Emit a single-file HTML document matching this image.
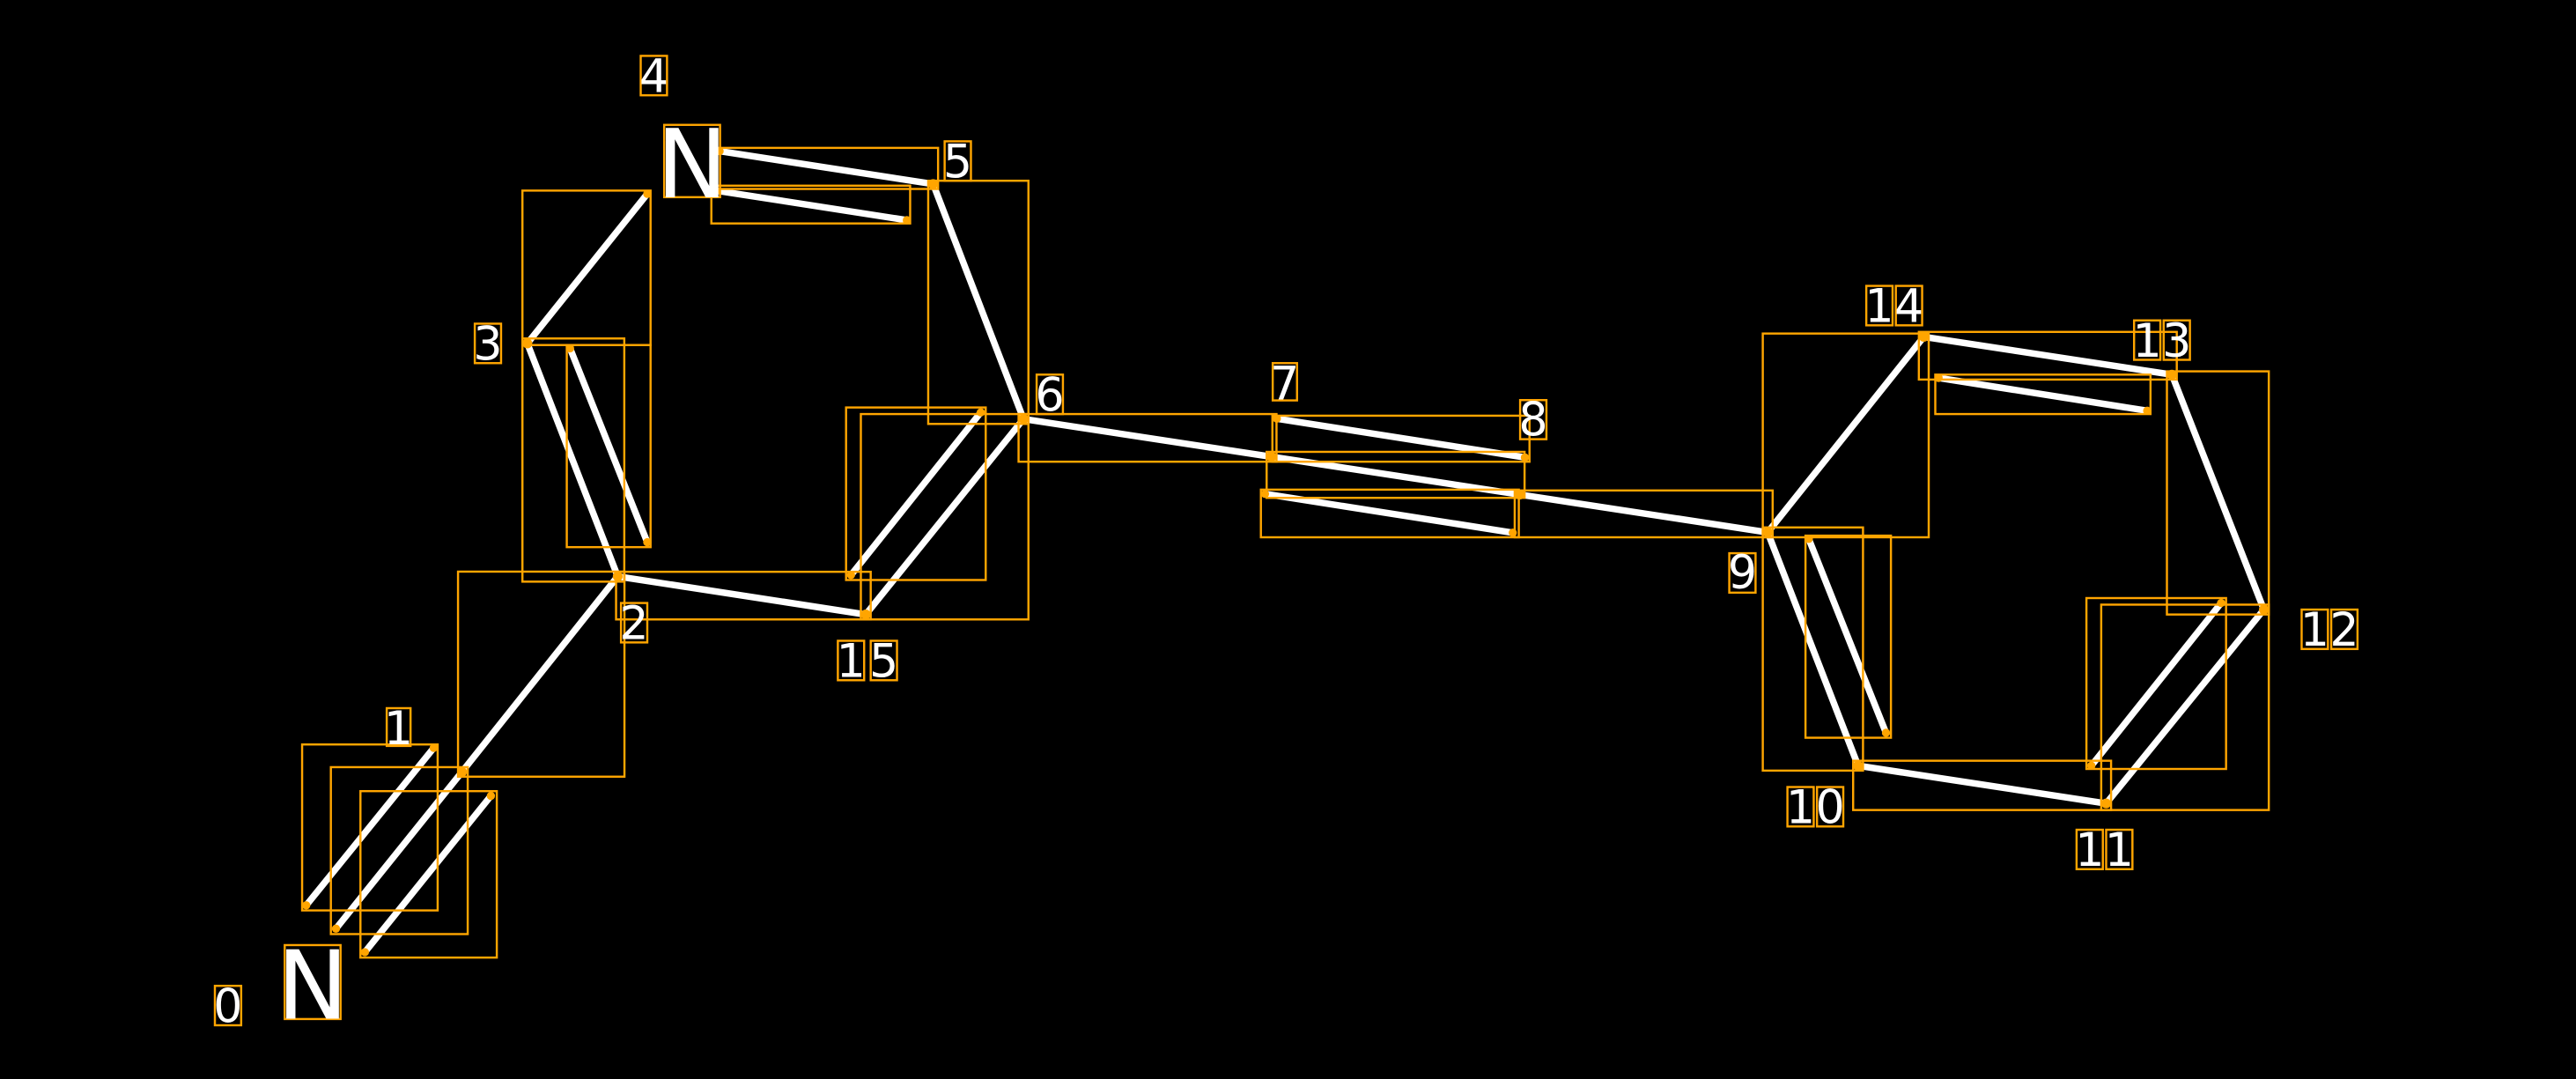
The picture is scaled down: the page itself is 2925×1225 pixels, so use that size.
<!DOCTYPE html>
<html><head><meta charset="utf-8"><style>
html,body{margin:0;padding:0;background:#000;width:2925px;height:1225px;overflow:hidden}
svg{display:block}
text{font-family:"DejaVu Sans","Liberation Sans",sans-serif;fill:#fff}
</style></head><body>
<svg width="2925" height="1225" viewBox="0 0 1568 656.7" preserveAspectRatio="none">
<rect width="1568" height="657" fill="#000"/>
<g stroke="#fff" stroke-width="4" stroke-linecap="round" fill="none">
<line x1="186.4" y1="551" x2="264" y2="455.2"/>
<line x1="204.5" y1="565.2" x2="281.2" y2="469.8"/>
<line x1="222.1" y1="579.5" x2="298.8" y2="484.4"/>
<line x1="281.2" y1="469.8" x2="376" y2="350.8"/>
<line x1="376" y1="350.8" x2="321" y2="209"/>
<line x1="347" y1="212" x2="394" y2="330"/>
<line x1="321" y1="209" x2="394" y2="118"/>
<line x1="438" y1="92" x2="568" y2="112"/>
<line x1="436" y1="116" x2="552" y2="134"/>
<line x1="568" y1="112" x2="623" y2="255"/>
<line x1="623" y1="255" x2="527" y2="374"/>
<line x1="597" y1="251" x2="518" y2="350"/>
<line x1="527" y1="374" x2="376" y2="350.8"/>
<line x1="623" y1="255" x2="1076" y2="324"/>
<line x1="777.2" y1="254.8" x2="928.2" y2="278.4"/>
<line x1="770" y1="300.6" x2="920.8" y2="324.2"/>
<line x1="1076" y1="324" x2="1131" y2="466"/>
<line x1="1101" y1="328" x2="1148" y2="446"/>
<line x1="1076" y1="324" x2="1171" y2="205"/>
<line x1="1171" y1="205" x2="1322" y2="228"/>
<line x1="1180" y1="230" x2="1307" y2="250"/>
<line x1="1322" y1="228" x2="1378" y2="371"/>
<line x1="1378" y1="371" x2="1282" y2="489"/>
<line x1="1352" y1="367" x2="1273" y2="466"/>
<line x1="1282" y1="489" x2="1131" y2="466"/>
</g>
<g stroke="#FFA500" stroke-width="1.3" fill="none">
<rect x="183.9" y="453.1" width="82.5" height="101"/>
<rect x="201.4" y="466.9" width="83.3" height="101.6"/>
<rect x="219.4" y="481.5" width="83" height="101.3"/>
<rect x="278.8" y="347.9" width="101.3" height="124.8"/>
<rect x="318" y="116" width="78" height="94"/>
<rect x="318" y="206" width="62" height="148"/>
<rect x="345" y="210" width="51" height="123"/>
<rect x="436" y="90" width="135" height="25"/>
<rect x="433" y="113" width="121" height="23"/>
<rect x="565" y="110" width="61" height="148"/>
<rect x="524" y="252" width="102" height="125"/>
<rect x="515" y="248" width="85" height="105"/>
<rect x="375" y="348" width="155" height="29"/>
<rect x="620" y="252" width="157" height="29"/>
<rect x="774.5" y="253" width="156.5" height="28"/>
<rect x="771" y="275" width="157" height="28"/>
<rect x="767.5" y="298" width="157" height="29"/>
<rect x="922" y="298.5" width="157" height="28.5"/>
<rect x="1073" y="321" width="61" height="148"/>
<rect x="1099" y="326" width="52" height="123"/>
<rect x="1073" y="203" width="101" height="124"/>
<rect x="1168" y="202" width="157" height="29"/>
<rect x="1178" y="228" width="131" height="24"/>
<rect x="1319" y="226" width="62" height="148"/>
<rect x="1279" y="368" width="102" height="125"/>
<rect x="1270" y="364" width="85" height="104"/>
<rect x="1128" y="463" width="157" height="30"/>
<rect x="173.3" y="575.2" width="34" height="45"/>
<rect x="404.3" y="76" width="34" height="44"/>
</g>
<g fill="#FFA500">
<circle cx="186.4" cy="551" r="2.5"/><circle cx="264" cy="455.2" r="2.5"/>
<circle cx="204.5" cy="565.2" r="2.5"/><circle cx="281.2" cy="469.8" r="3"/>
<circle cx="222.1" cy="579.5" r="2.5"/><circle cx="298.8" cy="484.4" r="2.5"/>
<circle cx="376" cy="350.8" r="3"/><circle cx="321" cy="209" r="3"/>
<circle cx="347" cy="212" r="2.5"/><circle cx="394" cy="330" r="2.5"/>
<circle cx="394" cy="118" r="2.5"/><circle cx="438" cy="92" r="2.5"/>
<circle cx="436" cy="116" r="2.5"/><circle cx="552" cy="134" r="2.5"/>
<circle cx="568" cy="112" r="3"/><circle cx="623" cy="255" r="3"/>
<circle cx="527" cy="374" r="3"/><circle cx="597" cy="251" r="2.5"/>
<circle cx="518" cy="350" r="2.5"/><circle cx="774" cy="278" r="3"/>
<circle cx="925" cy="301" r="3"/><circle cx="777.2" cy="254.8" r="2.5"/>
<circle cx="928.2" cy="278.4" r="2.5"/><circle cx="770" cy="300.6" r="2.5"/>
<circle cx="920.8" cy="324.2" r="2.5"/><circle cx="1076" cy="324" r="3"/>
<circle cx="1131" cy="466" r="3"/><circle cx="1101" cy="328" r="2.5"/>
<circle cx="1148" cy="446" r="2.5"/><circle cx="1171" cy="205" r="3"/>
<circle cx="1322" cy="228" r="3"/><circle cx="1180" cy="230" r="2.5"/>
<circle cx="1307" cy="250" r="2.5"/><circle cx="1378" cy="371" r="3"/>
<circle cx="1282" cy="489" r="3"/><circle cx="1352" cy="367" r="2.5"/>
<circle cx="1273" cy="466" r="2.5"/>
</g>
<g font-size="58" text-anchor="middle">
<text x="190.3" y="620">N</text>
<text x="421.3" y="120">N</text>
</g>
<g stroke="#FFA500" stroke-width="1.3" fill="none">
<rect x="130.8" y="600" width="16" height="24"/>
<rect x="235.4" y="431" width="14.5" height="23"/>
<rect x="378" y="367" width="16" height="24"/>
<rect x="289" y="197" width="16" height="24"/>
<rect x="390" y="34" width="16" height="24"/>
<rect x="575" y="86" width="16" height="24"/>
<rect x="631" y="228" width="16" height="24"/>
<rect x="774.7" y="221" width="14.8" height="22.7"/>
<rect x="925.3" y="243.5" width="16" height="23.8"/>
<rect x="1052.6" y="336.7" width="16" height="24"/>
<rect x="1088" y="479" width="16" height="24"/>
<rect x="1106" y="479" width="16" height="24"/>
<rect x="1264" y="505" width="16" height="24"/>
<rect x="1282" y="505" width="16" height="24"/>
<rect x="1401" y="371" width="16" height="24"/>
<rect x="1419" y="371" width="16" height="24"/>
<rect x="1299" y="195" width="16" height="24"/>
<rect x="1317" y="195" width="16" height="24"/>
<rect x="1136" y="174" width="16" height="24"/>
<rect x="1154" y="174" width="16" height="24"/>
<rect x="510" y="390" width="16" height="24"/>
<rect x="530" y="390" width="16" height="24"/>
</g>
<g font-size="28" text-anchor="middle">
<text x="138.8" y="622">0</text>
<text x="242.6" y="453">1</text>
<text x="386" y="389">2</text>
<text x="297" y="219">3</text>
<text x="398" y="56">4</text>
<text x="583" y="108">5</text>
<text x="639" y="250">6</text>
<text x="782" y="243">7</text>
<text x="933.3" y="265">8</text>
<text x="1060.6" y="358">9</text>
<text x="1096" y="501">1</text><text x="1114" y="501">0</text>
<text x="1272" y="527">1</text><text x="1290" y="527">1</text>
<text x="1409" y="393">1</text><text x="1427" y="393">2</text>
<text x="1307" y="217">1</text><text x="1325" y="217">3</text>
<text x="1144" y="196">1</text><text x="1162" y="196">4</text>
<text x="518" y="412">1</text><text x="538" y="412">5</text>
</g>
</svg>
</body></html>
